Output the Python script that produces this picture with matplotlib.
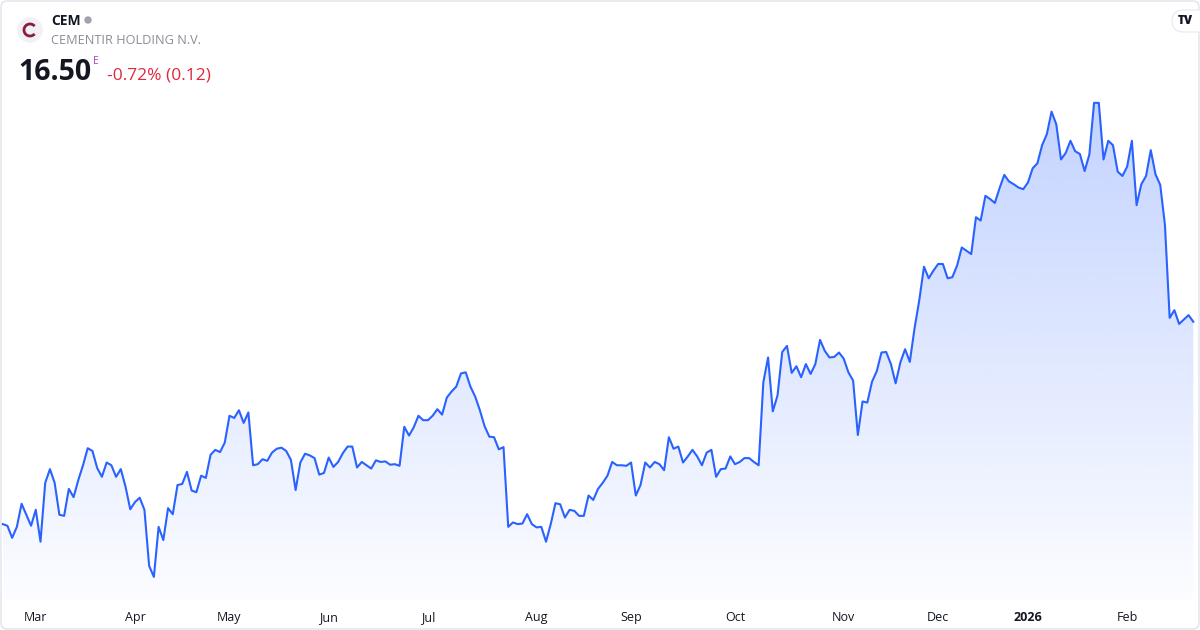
# CEM (Cementir Holding) one-year area chart

import numpy as np
import pandas as pd
import matplotlib
matplotlib.use('Agg')
import matplotlib.patches as patches
from matplotlib import pyplot as plt

plt.rcParams['font.family'] = ['Open Sans', 'DejaVu Sans']

#---- data

ticker = 'CEM'
company = 'CEMENTIR HOLDING N.V.'
last_price = '16.50'
change_text = '-0.72% (0.12)'

start_date = '2025-02-20'
end_date = '2026-02-20'
holidays = ['2025-04-18', '2025-04-21', '2025-05-01', '2025-08-15',
            '2025-12-24', '2025-12-25', '2025-12-26', '2025-12-31',
            '2026-01-01']

prices = [
    12.82, 12.79, 12.57, 12.77, 13.19, 12.99, 12.79, 13.08, 12.50, 13.57,
    13.82, 13.57, 12.99, 12.97, 13.46, 13.31, 13.62, 13.89, 14.20, 14.15,
    13.84, 13.68, 13.94, 13.89, 13.68, 13.82, 13.50, 13.09, 13.22, 13.30,
    13.08, 12.06, 11.86, 12.77, 12.53, 13.11, 13.00, 13.53, 13.55, 13.77,
    13.43, 13.40, 13.70, 13.66, 14.08, 14.17, 14.13, 14.30, 14.79, 14.75,
    14.89, 14.66, 14.85, 13.89, 13.91, 14.00, 13.97, 14.12, 14.19, 14.21,
    14.15, 13.99, 13.44, 13.94, 14.10, 14.07, 14.02, 13.72, 13.75, 14.03,
    13.86, 13.95, 14.11, 14.23, 14.23, 13.85, 13.95, 13.89, 13.83, 13.98,
    13.95, 13.96, 13.90, 13.91, 13.88, 14.59, 14.43, 14.58, 14.79, 14.71,
    14.71, 14.79, 14.91, 14.81, 15.12, 15.23, 15.32, 15.56, 15.58, 15.32,
    15.14, 14.89, 14.60, 14.41, 14.40, 14.18, 14.22, 12.77, 12.85, 12.82,
    12.83, 13.00, 12.82, 12.76, 12.77, 12.50, 12.82, 13.20, 13.18, 12.94,
    13.08, 13.06, 12.97, 12.97, 13.34, 13.26, 13.46, 13.57, 13.70, 13.95,
    13.89, 13.89, 13.88, 13.94, 13.34, 13.53, 13.94, 13.85, 13.95, 13.91,
    13.80, 14.40, 14.19, 14.23, 13.94, 14.05, 14.17, 14.05, 13.89, 14.12,
    14.17, 13.68, 13.82, 13.83, 14.05, 13.91, 13.95, 14.02, 14.02, 13.95,
    13.89, 15.40, 15.85, 14.87, 15.16, 15.95, 16.06, 15.57, 15.69, 15.49,
    15.73, 15.55, 15.73, 16.17, 15.97, 15.85, 15.86, 15.94, 15.83, 15.58,
    15.43, 14.44, 15.05, 15.03, 15.41, 15.60, 15.94, 15.95, 15.73, 15.38,
    15.76, 16.00, 15.77, 16.38, 16.89, 17.50, 17.29, 17.43, 17.55, 17.55,
    17.29, 17.31, 17.52, 17.85, 17.79, 17.73, 18.40, 18.34, 18.79, 18.73,
    18.66, 18.93, 19.17, 19.05, 19.00, 18.94, 18.91, 19.03, 19.29, 19.38,
    19.71, 19.91, 20.32, 20.09, 19.45, 19.57, 19.79, 19.60, 19.55, 19.24,
    19.54, 20.48, 20.48, 19.45, 19.79, 19.71, 19.23, 19.15, 19.32, 19.79,
    18.62, 19.00, 19.15, 19.62, 19.18, 18.99, 18.26, 16.57, 16.71, 16.46,
    16.54, 16.62, 16.50,
]

#---- styles

line_color = '#2962ff'
text_color = '#131722'
W, H = 1200, 630

#---- script

if __name__ == '__main__':

    dates = pd.bdate_range(start_date, end_date, freq='C', holidays=holidays)
    dates = dates[:len(prices)]
    x = np.arange(len(prices))
    y = np.array(prices)

    # month ticks: first trading day of each month
    tick_pos, tick_lab = [], []
    for i in range(1, len(dates)):
        if dates[i].month != dates[i-1].month:
            tick_pos.append(i)
            if dates[i].month == 1:
                tick_lab.append(str(dates[i].year))
            else:
                tick_lab.append(dates[i].strftime('%b'))

    fig = plt.figure(figsize=(W/100, H/100), dpi=100)
    fig.patch.set_facecolor('white')

    ax = fig.add_axes([0, 30/H, 1, 600/H])
    ymin, ymax = 11.44, 22.35
    ax.set_xlim(-0.57, 253.42)
    ax.set_ylim(ymin, ymax)

    # gradient area
    fill = ax.fill_between(x, y, ymin, color='none', lw=0)
    top = y.max()
    n = 256
    alpha = np.linspace(0.015, 0.28, n)
    grad = np.zeros((n, 1, 4))
    grad[:, 0, :3] = matplotlib.colors.to_rgb(line_color)
    grad[:, 0, 3] = alpha
    im = ax.imshow(grad, extent=[x[0], x[-1], ymin, top], origin='lower',
                   aspect='auto', interpolation='bilinear', zorder=1)
    im.set_clip_path(fill.get_paths()[0], transform=ax.transData)

    ax.plot(x, y, color=line_color, lw=1.5, zorder=3, solid_joinstyle='round')

    ax.set_xticks(tick_pos)
    ax.set_xticklabels(tick_lab)
    ax.tick_params(axis='x', length=0, pad=8, labelsize=9, labelcolor=text_color)
    for lab in ax.get_xticklabels():
        if lab.get_text().isdigit():
            lab.set_fontweight('bold')
    ax.set_yticks([])
    for s in ax.spines.values():
        s.set_visible(False)
    ax.set_facecolor('none')

    #---- header overlay in pixel units
    hd = fig.add_axes([0, 0, 1, 1], zorder=5)
    hd.set_xlim(0, W)
    hd.set_ylim(H, 0)
    hd.axis('off')
    hd.patch.set_alpha(0)

    hd.add_patch(patches.FancyBboxPatch((1, 1), W-2, H-2,
                 boxstyle='round,pad=0,rounding_size=6',
                 fc='none', ec='#e0e3eb', lw=1))

    # logo
    hd.add_patch(patches.Circle((30, 30), 12, color='#f0f0f6'))
    hd.add_patch(patches.Arc((30, 30), 12, 12, theta1=40, theta2=320,
                             color='#8c1c3c', lw=2.0))

    hd.text(51, 21, ticker, fontsize=10, fontweight='bold', color=text_color,
            va='center', ha='left')
    hd.add_patch(patches.Circle((88, 20), 3, color='#a0a3ab'))
    hd.text(51, 41, company, fontsize=9.2, color='#8a8d96', va='center', ha='left')

    hd.text(18, 72, last_price, fontsize=20.5, fontweight='bold', color=text_color,
            va='center', ha='left')
    hd.text(93, 61, 'E', fontsize=7.5, color='#a347ba', va='center', ha='left')
    hd.text(107, 75, change_text, fontsize=12.5, color='#e3263a',
            va='center', ha='left')

    # tradingview badge
    hd.add_patch(patches.FancyBboxPatch((1172, 10), 40, 22,
                 boxstyle='round,pad=0,rounding_size=11',
                 fc='white', ec='#e8e8ec', lw=0.8))
    hd.text(1185, 21, 'TV', fontsize=8.5, fontweight='heavy', color=text_color,
            va='center', ha='center')

    #---> output
    fig.savefig('out.png', dpi=100)
